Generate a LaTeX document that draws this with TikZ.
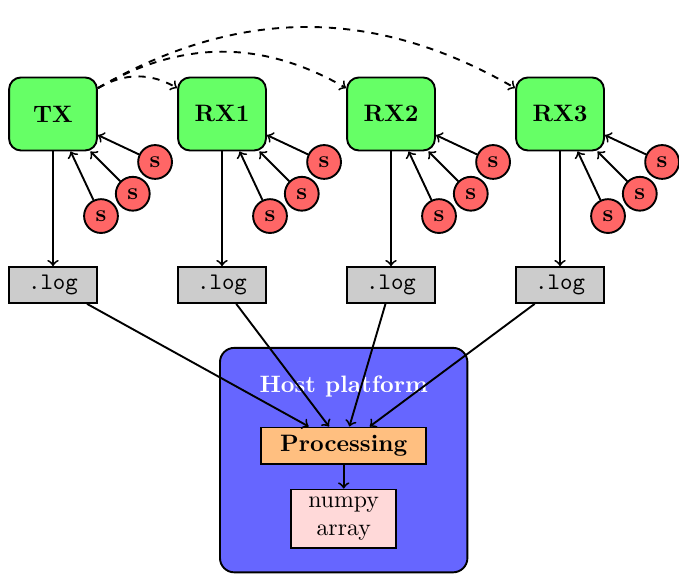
\documentclass[tikz,border=0pt]{standalone}
\usepackage{amsmath}
\usepackage{tikz}
\usetikzlibrary{shapes.geometric,arrows,positioning}

\begin{document}
\begin{tikzpicture}[
  font=\normalsize,
  dev/.style={rectangle, draw, thick, rounded corners=5pt, fill=green!60,
              minimum width=1.3cm, minimum height=1.08cm, font=\bfseries},
  sens/.style={circle, draw, thick, fill=red!60, minimum size=0.5cm,
               inner sep=0pt, font=\bfseries},
  logf/.style={rectangle, draw, thick, fill=gray!40, minimum width=1.3cm,
               minimum height=0.5cm, font=\ttfamily},
  host/.style={rectangle, draw, thick, rounded corners=6pt, fill=blue!60,
               minimum width=3.66cm, minimum height=3.32cm},
  proc/.style={rectangle, draw, thick, fill=orange!50, minimum width=2.44cm,
               minimum height=0.54cm, font=\bfseries},
  arr/.style={rectangle, draw, thick, fill=red!15, align=center,
              minimum width=1.56cm, minimum height=0.87cm, inner sep=2pt},
  flow/.style={->, thick},
  link/.style={->, thick, dashed}
]
\useasboundingbox (-0.784,1.686) rectangle (9.26,-6.805);
\node[host] (hst)  at (4.3,-5.12) {};
\node[font=\bfseries, text=white, below=0.3cm of hst.north] (hsttxt) {Host platform};
\node[dev]  (tx)   at (0,0)   {TX};
\node[dev]  (rx1)  at (2.5,0) {RX1};
\node[dev]  (rx2)  at (5,0)   {RX2};
\node[dev]  (rx3)  at (7.5,0) {RX3};
\node[logf] (log0) at (0,-2.53)   {.log};
\node[logf] (log1) at (2.5,-2.53) {.log};
\node[logf] (log2) at (5,-2.53)   {.log};
\node[logf] (log3) at (7.5,-2.53) {.log};
\node[proc] (prc)  at (4.3,-4.91) {Processing};
\node[arr]  (npy)  at (4.3,-5.99) {numpy\\array};
% sensors
\node[sens] (s0a) at (1.51,-0.71) {s};
\node[sens] (s0b) at (1.18,-1.18) {s};
\node[sens] (s0c) at (0.71,-1.51) {s};
\node[sens] (s1a) at (4.01,-0.71) {s};
\node[sens] (s1b) at (3.68,-1.18) {s};
\node[sens] (s1c) at (3.21,-1.51) {s};
\node[sens] (s2a) at (6.51,-0.71) {s};
\node[sens] (s2b) at (6.18,-1.18) {s};
\node[sens] (s2c) at (5.71,-1.51) {s};
\node[sens] (s3a) at (9.01,-0.71) {s};
\node[sens] (s3b) at (8.68,-1.18) {s};
\node[sens] (s3c) at (8.21,-1.51) {s};
\draw[flow] (s0a) -- (tx);  \draw[flow] (s0b) -- (tx);  \draw[flow] (s0c) -- (tx);
\draw[flow] (s1a) -- (rx1); \draw[flow] (s1b) -- (rx1); \draw[flow] (s1c) -- (rx1);
\draw[flow] (s2a) -- (rx2); \draw[flow] (s2b) -- (rx2); \draw[flow] (s2c) -- (rx2);
\draw[flow] (s3a) -- (rx3); \draw[flow] (s3b) -- (rx3); \draw[flow] (s3c) -- (rx3);
% radio links
\draw[link] (tx) to[bend left] (rx1);
\draw[link] (tx) to[bend left] (rx2);
\draw[link] (tx) to[bend left] (rx3);
% logging
\draw[flow] (tx)  -- (log0);
\draw[flow] (rx1) -- (log1);
\draw[flow] (rx2) -- (log2);
\draw[flow] (rx3) -- (log3);
\draw[flow] (log0) -- (prc);
\draw[flow] (log1) -- (prc);
\draw[flow] (log2) -- (prc);
\draw[flow] (log3) -- (prc);
\draw[flow] (prc) -- (npy);
\end{tikzpicture}
\end{document}
